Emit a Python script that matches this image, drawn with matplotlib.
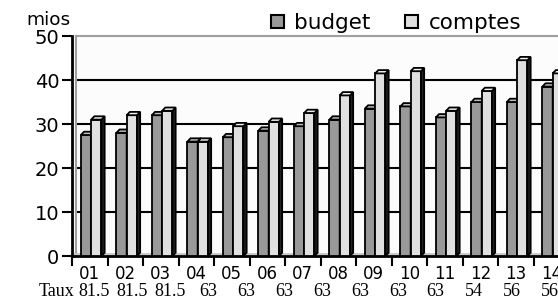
import matplotlib
matplotlib.use("Agg")
import matplotlib.pyplot as plt
from matplotlib.patches import Polygon, Rectangle
import matplotlib.transforms as mtransforms

categories = ["01", "02", "03", "04", "05", "06", "07", "08", "09", "10", "11", "12", "13", "14"]
budget = [27.5, 28, 32, 26, 27, 28.5, 29.5, 31, 33.5, 34, 31.5, 35, 35, 38.5]
comptes = [31, 32, 33, 26, 29.5, 30.5, 32.5, 36.5, 41.5, 42, 33, 37.5, 44.5, 41.5]
taux = ["81.5", "81.5", "81.5", "63", "63", "63", "63", "63", "63", "63", "54", "56", "56"]
yticks = [0, 10, 20, 30, 40, 50]

W, H = 558, 301
fig = plt.figure(figsize=(W / 100, H / 100), dpi=100)
fig.patch.set_facecolor("white")
ax = fig.add_axes([72 / W, 45 / H, 497 / W, 220 / H])
ax.set_facecolor("#fcfcfc")
ax.set_xlim(-0.5, len(categories) - 0.5)
ax.set_ylim(0, 50)

SANS = "DejaVu Sans"
SERIF = "Liberation Serif"

# gridlines
for v in yticks[1:-1]:
    ax.axhline(v, color="black", lw=1.5, zorder=1, xmin=0.008)

# back wall left edge and floor (gray)
ax.plot([-0.39, -0.39], [0, 50], color="#a0a0a0", lw=1.5, zorder=1, clip_on=False)
ax.axhline(0.4, color="#c8c8c8", lw=2, zorder=1)

dx, dy = 0.09, 0.75
bw = 0.29

def bar3d(x0, h, front, side, top):
    ax.add_patch(Rectangle((x0, 0), bw, h, facecolor=front, edgecolor="black", lw=1.3, zorder=3))
    ax.add_patch(Polygon([(x0 + bw, 0), (x0 + bw + dx, dy), (x0 + bw + dx, h + dy), (x0 + bw, h)],
                         closed=True, facecolor=side, edgecolor="black", lw=1.3, zorder=3))
    ax.add_patch(Polygon([(x0, h), (x0 + dx, h + dy), (x0 + bw + dx, h + dy), (x0 + bw, h)],
                         closed=True, facecolor=top, edgecolor="black", lw=1.3, zorder=3))

for i in range(len(categories)):
    bar3d(i - 0.25, budget[i], "#999999", "#333333", "#bdbdbd")
    bar3d(i + 0.04, comptes[i], "#e0e0e0", "#222222", "#f0f0f0")

# spines
for s in ["top", "right"]:
    ax.spines[s].set_visible(False)
ax.plot([-0.39, len(categories)], [50, 50], color="#a0a0a0", lw=1.5, zorder=1, clip_on=False)
ax.spines["left"].set_linewidth(2)
ax.spines["bottom"].set_linewidth(2)

ax.set_yticks(yticks)
ax.set_yticklabels([str(v) for v in yticks], fontsize=14, family=SANS)
ax.tick_params(axis="y", direction="out", length=7, width=1.5, pad=2)

ax.set_xticks([i - 0.5 for i in range(len(categories) + 1)])
ax.set_xticklabels([])
ax.set_xticks(list(range(len(categories))), minor=True)
ax.set_xticklabels(categories, minor=True, fontsize=12, family=SANS)
ax.tick_params(axis="x", which="major", direction="out", length=7, width=1.5)
ax.tick_params(axis="x", which="minor", length=0, pad=6.5)

# unit label
fig.text(48 / W, 1 - 20 / H, "mios", fontsize=13.3, family=SANS, ha="center", va="center")

# Taux row
trans = mtransforms.blended_transform_factory(ax.transData, fig.transFigure)
fig.text(57 / W, 1 - 291 / H, "Taux", fontsize=13, family=SERIF, ha="center", va="center")
start, step = 0.134, 1.068
for k, t in enumerate(taux):
    ax.text(start + k * step, 1 - 291 / H, t, transform=trans, fontsize=13, family=SERIF,
            ha="center", va="center", clip_on=False)

# legend
handles = [Rectangle((0, 0), 1, 1, facecolor="#999999", edgecolor="black", lw=1.5),
           Rectangle((0, 0), 1, 1, facecolor="#e0e0e0", edgecolor="black", lw=1.5)]
fig.legend(handles, ["budget", "comptes"], loc="center left", bbox_to_anchor=(262 / W, 1 - 23 / H),
           ncol=2, frameon=False, prop={"family": SANS, "size": 15.5},
           handlelength=0.6, handleheight=0.6, handletextpad=0.5, columnspacing=1.6, borderaxespad=0)

fig.savefig("out.png", dpi=100)
